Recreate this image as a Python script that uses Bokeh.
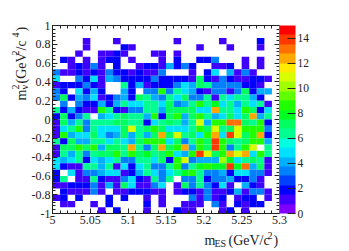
from bokeh.plotting import figure
from bokeh.models import ColumnDataSource, LinearColorMapper, ColorBar, FixedTicker, LinearAxis, Label, Range1d
from bokeh.embed import file_html
from bokeh.resources import INLINE
import math

counts = [
[0]*30,
[0]*30,
[0,0,0,0,1,0,0,0,1,0,0,0,0,0,0,0,1,0,0,0,0,0,1,0,0,0,0,2,0,0],
[0,0,0,0,1,0,0,0,0,2,1,0,0,0,0,0,0,0,0,1,0,0,0,1,0,0,0,1,0,0],
[0,0,0,1,0,0,1,1,2,1,0,0,0,1,1,0,1,0,0,0,0,0,0,0,0,0,0,0,0,0],
[0,2,1,0,1,0,1,2,2,0,1,0,0,0,1,0,2,0,0,2,2,3,0,0,0,1,0,1,0,0],
[0,0,1,2,1,3,1,0,2,0,0,1,2,2,1,4,2,3,2,0,0,1,1,2,0,1,0,1,0,0],
[3,1,1,2,1,2,1,3,2,2,1,2,1,1,3,0,0,0,1,0,2,5,0,4,1,3,1,0,0,0],
[5,0,0,3,2,5,1,4,3,2,2,2,2,3,2,2,2,2,1,7,2,1,3,2,1,1,2,2,1,0],
[1,2,2,2,3,2,1,0,0,6,2,4,1,2,2,2,3,5,4,7,6,3,3,3,3,2,2,1,0,0],
[3,2,0,5,2,4,2,0,0,4,2,0,3,3,9,3,6,5,4,2,1,3,3,1,3,7,2,4,4,0],
[3,7,2,4,3,5,1,2,3,4,2,7,6,4,3,6,5,7,3,3,6,1,6,5,6,6,4,2,0,0],
[0,3,0,3,2,2,4,2,4,6,5,5,6,6,5,7,3,4,6,9,6,8,5,6,4,6,5,6,1,0],
[6,2,4,2,1,1,9,6,2,1,3,3,6,6,4,7,7,7,7,5,5,12,6,6,5,9,7,2,5,0],
[2,7,2,3,6,0,4,5,6,7,6,6,4,9,2,7,9,4,7,9,6,4,5,7,5,7,12,4,6,0],
[1,7,4,6,3,6,6,6,7,7,6,6,2,5,6,7,6,4,6,11,4,9,9,13,13,7,6,9,2,0],
[1,5,6,9,3,6,5,5,5,7,11,6,7,9,7,5,5,5,6,9,7,11,6,7,11,9,9,9,3,0],
[1,9,4,5,5,7,5,3,4,7,4,6,4,7,12,7,11,6,7,5,9,12,5,14,11,7,9,12,2,0],
[6,2,7,4,4,6,6,5,6,5,4,7,9,9,9,5,7,3,6,9,7,14,9,7,6,7,9,9,4,0],
[1,7,7,9,7,9,4,7,7,6,12,6,3,7,12,7,9,12,4,9,7,14,9,3,6,9,11,0,6,0],
[1,6,4,6,3,6,7,7,9,6,9,7,8,6,7,9,5,4,9,14,11,7,9,12,11,12,5,9,6,0],
[5,4,5,6,2,5,4,5,6,3,3,6,6,5,7,2,9,11,3,4,4,4,10,8,5,6,7,6,1,0],
[5,2,1,1,6,6,4,6,1,5,2,5,6,3,3,6,9,3,6,8,9,8,8,14,8,13,4,7,1,0],
[2,0,5,1,3,3,4,5,5,1,2,4,6,5,3,5,6,8,9,6,3,3,4,2,5,5,3,3,1,0],
[2,6,0,1,1,6,2,1,1,3,5,2,1,6,3,6,0,3,3,6,2,3,3,4,2,2,3,1,0,0],
[1,1,2,2,2,3,1,4,1,7,5,1,1,3,5,0,1,7,3,6,3,2,5,1,0,4,2,1,0,0],
[0,2,1,1,1,3,1,0,1,1,2,2,2,1,1,0,1,2,2,1,3,1,1,2,4,1,3,3,1,0],
[1,2,0,2,0,0,0,2,0,2,0,0,1,0,1,0,0,0,3,1,3,1,2,0,1,2,2,0,1,0],
[0,1,1,0,0,1,0,2,0,0,0,0,2,0,1,0,0,1,1,1,0,3,1,0,2,1,2,2,0,0],
[0,0,0,0,0,0,1,0,2,0,0,0,1,0,0,0,2,1,1,0,0,0,1,2,0,1,0,0,0,0],
]
x_ticks = [5, 5.05, 5.1, 5.15, 5.2, 5.25, 5.3]
x_tick_labels = ["5", "5.05", "5.1", "5.15", "5.2", "5.25", "5.3"]
y_ticks = [-1, -0.8, -0.6, -0.4, -0.2, 0, 0.2, 0.4, 0.6, 0.8, 1]
y_tick_labels = ["-1", "-0.8", "-0.6", "-0.4", "-0.2", "0", "0.2", "0.4", "0.6", "0.8", "1"]
z_ticks = [0, 2, 4, 6, 8, 10, 12, 14]
palette = ["#8000ff","#4000ff","#0000ff","#0040ff","#0080ff","#00b0ff","#00e0ff","#00ffe0",
           "#00ff90","#00ff60","#00ff20","#20ff00","#60ff00","#a0ff00","#d8ff00","#ffea00",
           "#ffa800","#ff7000","#ff3800","#ff0000"]
x_low, x_high, y_low, y_high = 5.0, 5.3, -1.0, 1.0

nrow, ncol = len(counts), len(counts[0])
dx, dy = (x_high - x_low) / ncol, (y_high - y_low) / nrow
L, R, T, B, V = [], [], [], [], []
for r, row in enumerate(counts):
    for c, v in enumerate(row):
        if v > 0:
            L.append(x_low + c * dx); R.append(x_low + (c + 1) * dx)
            T.append(y_high - r * dy); B.append(y_high - (r + 1) * dy)
            V.append(v)
src = ColumnDataSource(dict(left=L, right=R, top=T, bottom=B, v=V))
mapper = LinearColorMapper(palette=palette, low=0, high=15)

W, H = 341, 247
FL, FT, FW, FH = 52, 25, 227, 188
p = figure(width=W, height=H, output_backend="svg", toolbar_location=None,
           x_range=Range1d(x_low, x_high), y_range=Range1d(y_low, y_high),
           frame_width=FW, frame_height=FH, min_border_left=FL, min_border_right=0,
           min_border_top=FT, min_border_bottom=H - FT - FH, background_fill_color="white")
p.grid.visible = False
p.quad(left="left", right="right", top="top", bottom="bottom", source=src,
       fill_color={"field": "v", "transform": mapper}, line_color=None)

FONT = "Liberation Serif"
def style(ax, labels, ticks, minor):
    ax.ticker = FixedTicker(ticks=ticks, minor_ticks=minor)
    ax.major_tick_in = 5; ax.major_tick_out = 0
    ax.minor_tick_in = 3; ax.minor_tick_out = 0
    ax.major_tick_line_color = "#222222"; ax.minor_tick_line_color = "#222222"
    ax.axis_line_color = "#222222"
    ax.major_label_text_font = FONT
    ax.major_label_text_font_size = "12px"
    ax.major_label_text_color = "#222222"
    ax.major_label_overrides = dict(zip(ticks, labels))

x_minor = [5 + 0.01 * i for i in range(31)]
y_minor = [-1 + 0.04 * i for i in range(51)]
xa = p.xaxis[0]; style(xa, x_tick_labels, x_ticks, x_minor); xa.major_label_standoff = 2
ya = p.yaxis[0]; style(ya, y_tick_labels, y_ticks, y_minor); ya.major_label_standoff = 2
top = LinearAxis(); style(top, [""] * len(x_ticks), x_ticks, x_minor); top.major_label_standoff = 0
p.add_layout(top, "above")
right = LinearAxis(); style(right, [""] * len(y_ticks), y_ticks, y_minor); right.major_label_standoff = 0
p.add_layout(right, "right")

cb = ColorBar(color_mapper=mapper, ticker=FixedTicker(ticks=z_ticks), width=16, height=FH,
              major_tick_in=8, major_tick_out=0, major_tick_line_color="#222222",
              minor_tick_line_color=None, bar_line_color=None, padding=0, margin=2,
              label_standoff=2, major_label_text_font=FONT, major_label_text_font_size="11.5px",
              major_label_text_color="#222222", location=(0, 0))
p.add_layout(cb, "right")

def lab(txt, sx, sy, size, angle=0.0):
    p.add_layout(Label(x=sx, y=sy, x_units="canvas", y_units="canvas", text=txt,
                       text_font=FONT, text_font_size=size, text_color="#222222",
                       angle=angle, text_baseline="alphabetic", text_align="left"), "below")

big, small = "14px", "10px"
lab("m", 204, 240, big); lab("ES", 214, 243, small); lab("(GeV/c", 228, 240, big)
lab("2", 267, 235, small); lab(")", 273, 240, big)
a = math.pi / 2
lab("m", 21, 100, big, a); lab("2", 15, 89, small, a); lab("\u03bd", 24, 89, small, a)
lab("(GeV", 21, 83, big, a); lab("2", 15, 55, small, a); lab("/c", 21, 50, big, a)
lab("4", 15, 37, small, a); lab(")", 21, 31, big, a)

open("out.html", "w").write(file_html(p, INLINE))
